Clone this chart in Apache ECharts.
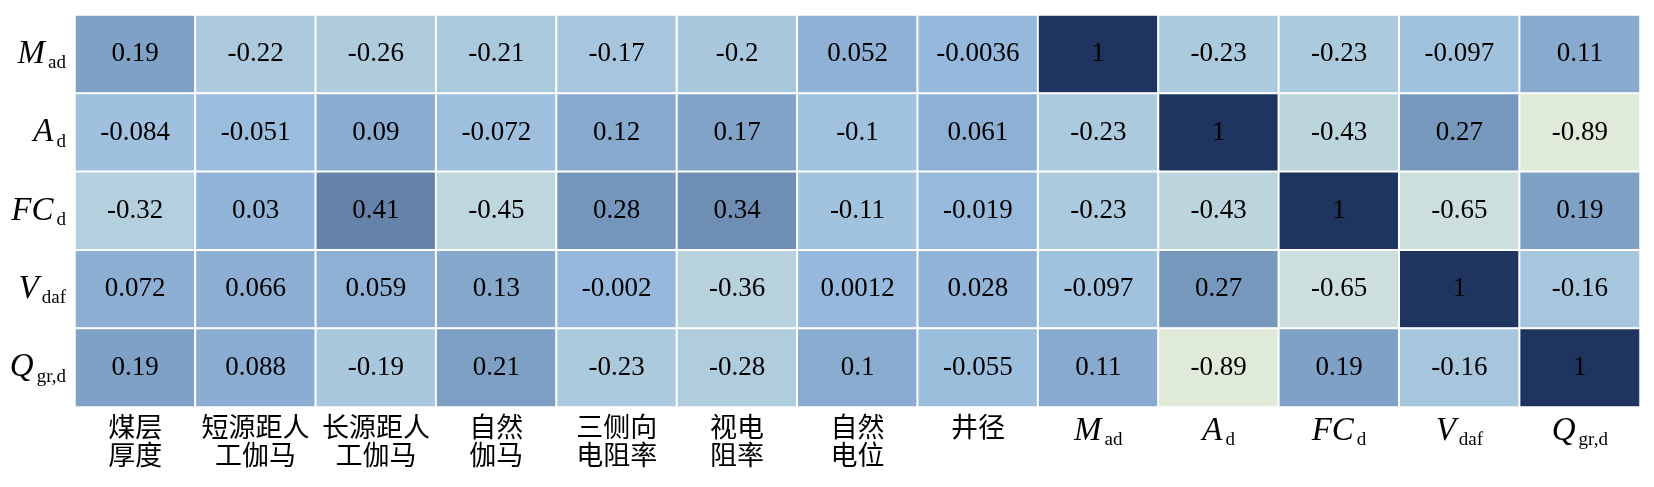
<!DOCTYPE html>
<html><head><meta charset="utf-8">
<script src="https://cdn.jsdelivr.net/npm/echarts@6/dist/echarts.min.js"></script>
<style>html,body{margin:0;padding:0;background:#fff}#c{width:1654px;height:487px}</style>
</head><body><div id="c"></div>
<script>
var colLabels = ['煤层\n厚度','短源距人\n工伽马','长源距人\n工伽马','自然\n伽马','三侧向\n电阻率','视电\n阻率','自然\n电位','井径','M_ad','A_d','FC_d','V_daf','Q_gr,d'];
var rowLabels = ['M_ad','A_d','FC_d','V_daf','Q_gr,d'];
var rowMad  = [0.19, -0.22, -0.26, -0.21, -0.17, -0.2, 0.052, -0.0036, 1, -0.23, -0.23, -0.097, 0.11];
var rowAd   = [-0.084, -0.051, 0.09, -0.072, 0.12, 0.17, -0.1, 0.061, -0.23, 1, -0.43, 0.27, -0.89];
var rowFCd  = [-0.32, 0.03, 0.41, -0.45, 0.28, 0.34, -0.11, -0.019, -0.23, -0.43, 1, -0.65, 0.19];
var rowVdaf = [0.072, 0.066, 0.059, 0.13, -0.002, -0.36, 0.0012, 0.028, -0.097, 0.27, -0.65, 1, -0.16];
var rowQgr  = [0.19, 0.088, -0.19, 0.21, -0.23, -0.28, 0.1, -0.055, 0.11, -0.89, 0.19, -0.16, 1];
var rows = [rowMad, rowAd, rowFCd, rowVdaf, rowQgr];

var data = [];
rows.forEach(function (r, yi) { r.forEach(function (v, xi) { data.push([xi, yi, v]); }); });

function subLabel(s) {
  var i = s.indexOf('_');
  if (i < 0) return '{cn|' + s + '}';
  return '{i|' + s.slice(0, i) + '}{s|' + s.slice(i + 1) + '}';
}
var richStyles = {
  i: { fontFamily: 'Liberation Serif', fontStyle: 'italic', fontSize: 33, color: '#000', lineHeight: 36 },
  s: { fontFamily: 'Liberation Serif', fontSize: 19, color: '#000', padding: [18, 0, 0, 3], lineHeight: 36 },
  cn: { fontFamily: 'Noto Sans CJK SC', fontSize: 27, color: '#000', lineHeight: 28 }
};

var chart = echarts.init(document.getElementById('c'), null, { renderer: 'canvas' });
chart.setOption({
  animation: false,
  grid: { left: 75, right: 14, top: 15, bottom: 80 },
  xAxis: {
    type: 'category', data: colLabels, position: 'bottom',
    axisLine: { show: false }, axisTick: { show: false }, splitArea: { show: false },
    axisLabel: { interval: 0, margin: 6, verticalAlign: 'top', formatter: function (v) {
      return v.split('\n').map(subLabel).join('\n'); }, rich: richStyles }
  },
  yAxis: {
    type: 'category', data: rowLabels, inverse: true,
    axisLine: { show: false }, axisTick: { show: false },
    axisLabel: { margin: 9, formatter: subLabel, rich: richStyles }
  },
  visualMap: {
    show: false, type: 'continuous', min: -1, max: 1, dimension: 2,
    inRange: { color: ['#e3ecd6','#e0ead8','#d9e6da','#d0e1db','#c9dddc','#c1d8dd','#bad4dd','#b2cedd','#aac8dd','#a1c2de','#95b8dc','#89abd0','#7ea0c5','#7394ba','#6684ab','#5a779f','#4e6a92','#425d85','#364f78','#2a426b','#1f355f'] }
  },
  series: [{
    type: 'heatmap', data: data,
    itemStyle: { borderColor: '#ffffff', borderWidth: 2 },
    label: { show: true, color: '#000', fontFamily: 'Liberation Serif', fontSize: 27,
      formatter: function (p) { return String(p.value[2]); } },
    emphasis: { disabled: true }
  }]
});
</script></body></html>
